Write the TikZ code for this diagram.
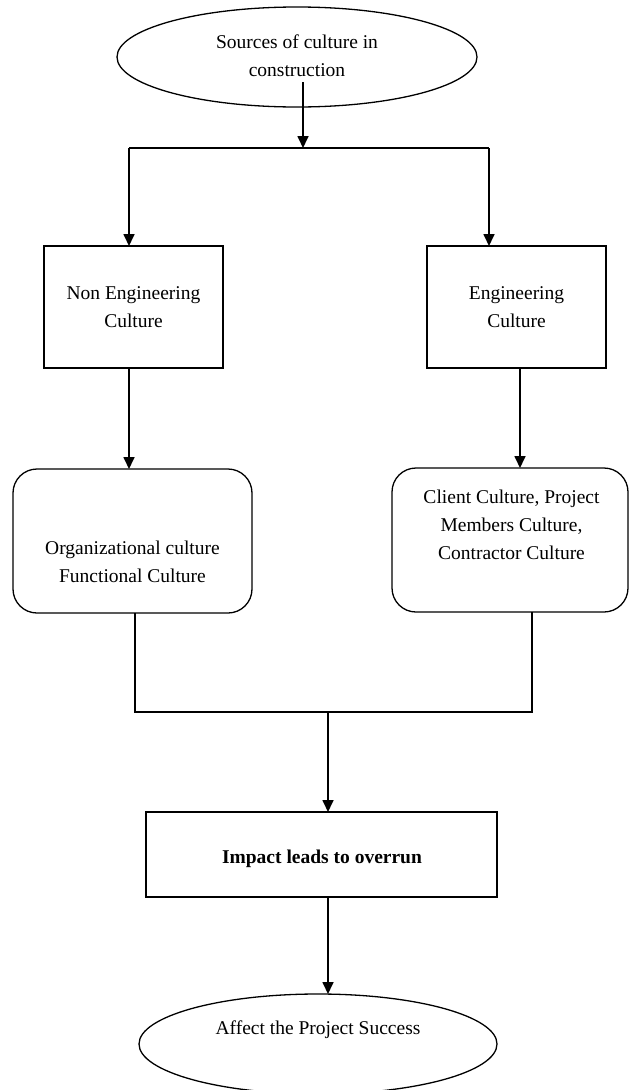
\documentclass[tikz,border=0pt]{standalone}
\usepackage{fontspec}
\setmainfont{Liberation Serif}
\usetikzlibrary{shapes.geometric,arrows.meta}
\begin{document}
\begin{tikzpicture}[x=1pt,y=-1pt,
  every node/.style={inner sep=0pt, outer sep=0pt},
  txt/.style={font=\fontsize{19.5}{28}\selectfont, align=center},
  oval/.style={draw, ellipse, line width=1.3pt},
  rectbox/.style={draw, rectangle, line width=1.4pt},
  roundbox/.style={draw, rectangle, rounded corners=24pt, line width=1.3pt},
  arr/.style={line width=1.7pt, -{Triangle[length=12pt,width=11pt]}},
  ln/.style={line width=1.3pt}]
\useasboundingbox (0,0) rectangle (630,1090);

% top ellipse
\node[oval, minimum width=360pt, minimum height=100pt] (src) at (297,57) {};
\node[txt] (srct) at (297,56) {Sources of culture in\\construction};

% junction
\coordinate (s1) at (303,82);
\coordinate (j1) at (303,148);
\coordinate (jl) at (129,148);
\coordinate (jr) at (489,148);

% boxes
\node[rectbox, minimum width=179pt, minimum height=122pt, txt] (ne) at (133.5,307) {Non Engineering\\Culture};
\node[rectbox, minimum width=179pt, minimum height=122pt, txt] (eng) at (516.5,307) {Engineering\\Culture};

\node[roundbox, minimum width=239pt, minimum height=144pt] (org) at (132.5,541) {};
\node[txt] (orgt) at (132.5,562) {Organizational culture\\Functional Culture};

\node[roundbox, minimum width=236pt, minimum height=144pt] (cli) at (510,540) {};
\node[txt] (clit) at (511.5,525) {Client Culture, Project\\Members Culture,\\Contractor Culture};

\node[rectbox, minimum width=351pt, minimum height=85pt] (imp) at (321.5,854.5) {};
\node[txt, font=\fontsize{19.5}{28}\selectfont\bfseries] (impt) at (322,859) {Impact leads to overrun};

\node[oval, minimum width=358pt, minimum height=100pt] (aff) at (318,1044) {};
\node[txt] (afft) at (318,1030) {Affect the Project Success};

% connectors
\draw[arr] (s1) -- (j1);
\draw[ln, line width=1.6pt] (jl) -- (jr);
\draw[arr] (jl) -- (jl |- ne.north);
\draw[arr] (jr) -- (jr |- eng.north);

\draw[arr] (ne.south -| jl) -- (jl |- org.north);
\draw[arr] ([xshift=3.5pt]eng.south) -- ([xshift=3.5pt]eng.south |- cli.north);

\coordinate (m) at (328,712);
\coordinate (ml) at (135,712);
\coordinate (mr) at (532,712);
\draw[ln] (org.south -| ml) -- (ml) -- (mr) -- (cli.south -| mr);
\draw[arr] (m) -- (m |- imp.north);

\draw[arr] ([xshift=6.5pt]imp.south) -- ([xshift=6.5pt]imp.south |- aff.north);
\end{tikzpicture}
\end{document}
